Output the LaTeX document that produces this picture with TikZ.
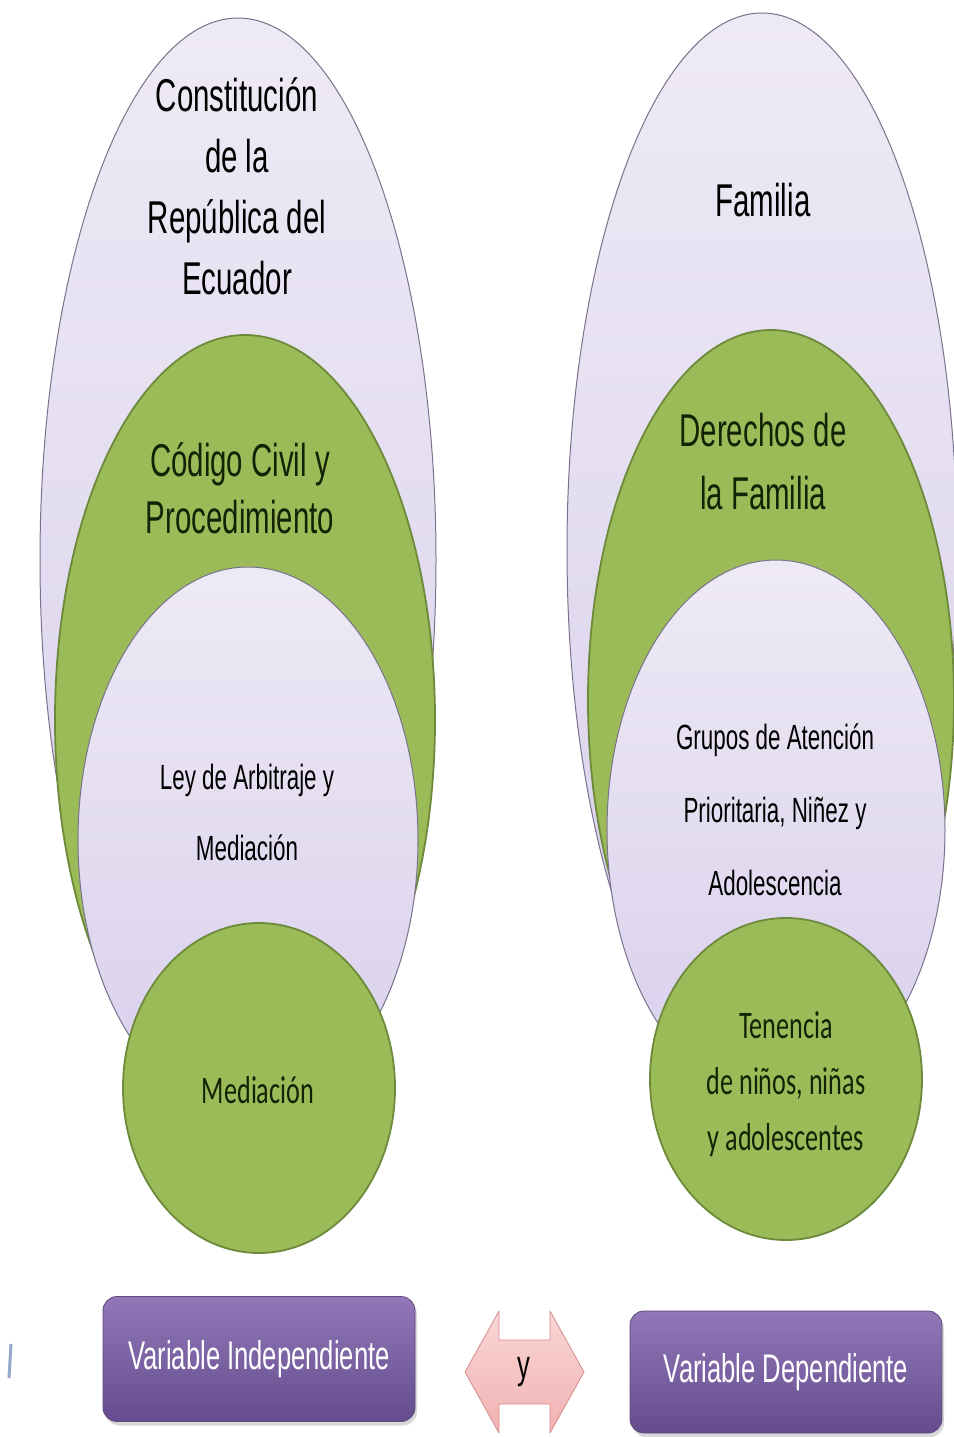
\documentclass[tikz,border=0pt]{standalone}
\usepackage{fontspec}
\usetikzlibrary{shapes.geometric,shadows}
\newfontfamily\narrowsans[FakeStretch=0.64]{Liberation Sans}
\newfontfamily\narrowcal[FakeStretch=0.67]{Carlito}
\definecolor{lavtop}{RGB}{238,234,245}
\definecolor{lavbot}{RGB}{216,207,236}
\definecolor{lavline}{RGB}{120,114,140}
\definecolor{leafgreen}{RGB}{155,187,89}
\definecolor{leafline}{RGB}{108,138,58}
\definecolor{leaftext}{RGB}{20,35,5}
\definecolor{boxtop}{RGB}{146,120,184}
\definecolor{boxbot}{RGB}{100,76,142}
\definecolor{boxline}{RGB}{95,73,122}
\definecolor{pinktop}{RGB}{250,214,214}
\definecolor{pinkbot}{RGB}{240,178,178}
\definecolor{pinkline}{RGB}{214,140,138}
\definecolor{tickblue}{RGB}{150,170,200}

\tikzset{
lav/.style={ellipse, draw=lavline, line width=0.5pt, top color=lavtop, bottom color=lavbot, inner sep=0pt},
leaf/.style={ellipse, draw=leafline, line width=0.9pt, fill=leafgreen, inner sep=0pt},
txt/.style 2 args={align=center, inner sep=0pt, font=\fontsize{#1}{#2}\selectfont\narrowsans},
caltxt/.style 2 args={align=center, inner sep=0pt, font=\fontsize{#1}{#2}\selectfont\narrowcal},
varbox/.style={rounded corners=7pt, draw=boxline, top color=boxtop, bottom color=boxbot, text=white,
  font=\fontsize{20}{24}\selectfont\narrowsans, drop shadow={opacity=0.3, shadow xshift=1pt, shadow yshift=-2pt}}
}

\begin{document}
\begin{tikzpicture}[x=0.5pt,y=-0.5pt]
\useasboundingbox[fill=white] (0,0) rectangle (954,1437);

\node[lav] at (238,560) [minimum width=198pt, minimum height=542pt] (const) {};
\node[leaf] at (245,720) [minimum width=190pt, minimum height=385pt] (codigo) {};
\node[lav] at (248,840) [minimum width=170pt, minimum height=273pt] (ley) {};
\node[leaf] at (259,1088) [minimum width=136pt, minimum height=165pt] (mediacion) {};

\node[lav] at (762,550) [minimum width=195pt, minimum height=537pt] (familia) {};
\node[leaf] at (771,700) [minimum width=183pt, minimum height=370pt] (derechos) {};
\node[lav] at (776,830) [minimum width=169pt, minimum height=270pt] (grupos) {};
\node[leaf] at (786,1079) [minimum width=136pt, minimum height=161pt] (tenencia) {};

\node[txt={23}{30.5}] at (237,186) (constTxt) {Constitución\\de la\\República del\\Ecuador};
\node[txt={23}{28.5}, text=leaftext] at (240,488) (codigoTxt) {Código Civil y\\Procedimiento};
\node[txt={17.5}{35.5}] at (247,812) (leyTxt) {Ley de Arbitraje y\\Mediación};
\node[caltxt={19.5}{28}, text=leaftext] at (258,1090) (mediacionTxt) {Mediación};

\node[txt={23}{31}] at (763,200) (familiaTxt) {Familia};
\node[txt={23}{31.5}, text=leaftext] at (763,462) (derechosTxt) {Derechos de\\la Familia};
\node[txt={17.5}{36.5}] at (775,810) (gruposTxt) {Grupos de Atención\\Prioritaria, Niñez y\\Adolescencia};
\node[caltxt={19.5}{28}, text=leaftext] at (786,1084) (tenenciaTxt) {Tenencia\\de niños, niñas\\y adolescentes};

\node[varbox] at (259,1359) [minimum width=156pt, minimum height=62.5pt] (indep) {Variable Independiente};
\node[varbox] at (786,1372) [minimum width=156pt, minimum height=61pt] (dep) {Variable Dependiente};

\path[draw=pinkline, top color=pinktop, bottom color=pinkbot, line join=round]
(465,1372) -- (499,1311) -- (499,1340) -- (550,1340) -- (550,1311) -- (584,1372)
-- (550,1433) -- (550,1404) -- (499,1404) -- (499,1433) -- cycle;
\node[txt={20}{24}] at (524,1372) (andTxt) {y};

\draw[tickblue, line width=1.5pt] (11,1344) -- (9,1378);

\end{tikzpicture}
\end{document}
